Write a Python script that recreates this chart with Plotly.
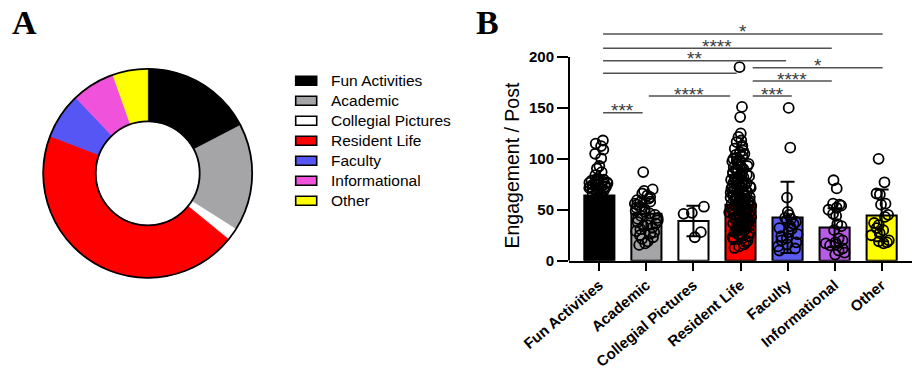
import plotly.graph_objects as go

W, H = 914, 376

# ---------------- data ----------------
categories = ["Fun Activities", "Academic", "Collegial Pictures", "Resident Life",
              "Faculty", "Informational", "Other"]
post_share_pct = [17.4, 16.6, 1.9, 44.9, 7.1, 6.7, 5.4]
pie_colors = ["#000000", "#a5a5a8", "#ffffff", "#ff0000", "#5656f5", "#f052dc", "#ffff00"]
bar_colors = ["#000000", "#a5a5a8", "#ffffff", "#ff0000", "#5b5bef", "#b65ce6", "#ffff00"]

mean_engagement = [64, 46, 39, 55, 42.5, 32.5, 44.5]
sd_engagement = [20, 15, 15, 26, 35, 19, 25.5]

fun_pts = [118, 115, 112.5, 109, 105, 100.5, 93, 90.5, 87, 84, 80.5, 79, 78.5, 77, 76.5,
           75, 74, 73.5, 72, 70.5, 69, 68, 66.5, 65, 63, 61.5, 60, 58.5, 57, 55, 53.5,
           52, 50.5, 48, 47, 45.5, 43, 41, 39.5, 37, 35, 33.5, 31, 29, 27,
           79.5, 77.5, 76, 74.5, 73, 71.5, 70, 68.5, 67, 78, 75.5, 72.5]
academic_pts = [87, 70, 68.5, 66, 64, 62.5, 61, 59.5, 58, 57.5, 56, 55, 53, 52, 50.5, 49,
                48, 46.5, 45, 44, 42, 41, 39.5, 38, 36.5, 35, 34, 32.5, 31, 29, 28, 26.5,
                25, 23, 21.5, 19, 17, 15.5]
collegial_pts = [53, 47, 46, 28, 23]
resident_pts = [190, 151, 141, 125, 121.5, 118, 116.5, 113, 111.5, 110, 108, 106.5, 104,
                102.5, 101, 99, 97.5, 96, 94, 93, 91.5, 90, 88.5, 87, 86, 84.5, 83, 82,
                81, 79.5, 78.5, 77, 76.5, 75, 74, 73, 72.5, 71, 70, 69.5, 68, 67, 66.5,
                65, 64, 63.5, 62, 61, 60.5, 59, 58, 57.5, 56, 55, 54.5, 53, 52, 51.5, 50,
                49, 48.5, 47, 46, 45.5, 44, 43, 42.5, 41, 40, 39.5, 38, 37, 36.5, 35, 34,
                33.5, 32, 31, 30.5, 29, 28, 27, 25.5, 24, 23, 21, 19.5, 18, 16, 14, 12.5,
                62.5, 58.5, 55.5, 51, 47.5, 44.5, 41.5, 38.5, 35.5, 33, 30, 26, 22, 57,
                53.5, 49.5, 45, 42, 39, 36, 79, 84, 92, 98, 71.5, 67.5, 63, 60, 54, 48,
                105, 100, 95, 89, 85.5, 80.5, 76, 73.5, 69, 65.5, 61.5]
faculty_pts = [150, 111, 62, 48, 45, 42, 41, 40, 38, 36, 34, 32, 31, 28, 26, 24, 22, 20,
               18, 16, 14, 12, 10]
informational_pts = [79, 71, 56, 55, 54, 52, 50, 46, 44, 36, 34, 30, 22, 20, 18, 17, 16,
                     15, 12, 10, 8, 6]
other_pts = [100, 77, 66, 65, 56, 55, 45, 43, 37, 35, 32, 30, 27, 25, 20, 19, 18, 17]
points_by_cat = [fun_pts, academic_pts, collegial_pts, resident_pts, faculty_pts,
                 informational_pts, other_pts]

# significance brackets (category units / data units)
bracket_x0 = [0.08, 1.05, 0.08, 0.08, 0.08, 0.08, 3.26, 3.26, 3.26]
bracket_x1 = [0.92, 2.78, 2.92, 3.97, 4.94, 6.02, 4.09, 4.94, 6.02]
bracket_y = [145.3, 161.7, 184.0, 196.4, 208.5, 222.6, 161.7, 176.4, 189.5]
bracket_label = ["***", "****", "", "**", "****", "*", "***", "****", "*"]

y_ticks = [0, 50, 100, 150, 200]

# ---------------- helpers (pixel -> paper) ----------------
def fx(px):
    return px / W

def fy(py):
    return 1 - py / H

SANS = "Liberation Sans, Arial, sans-serif"

fig = go.Figure()

# ---------------- panel A: donut ----------------
cx, cy, r_out, r_in = 147.7, 173.3, 104.5, 52.0
fig.add_trace(go.Pie(
    labels=categories, values=post_share_pct, hole=r_in / r_out,
    sort=False, direction="clockwise", rotation=0,
    marker=dict(colors=pie_colors, line=dict(color=pie_colors, width=0.8)),
    textinfo="none", hoverinfo="label+percent", showlegend=False,
    domain=dict(x=[fx(cx - r_out), fx(cx + r_out)], y=[fy(cy + r_out), fy(cy - r_out)]),
))

shapes = []
for rr in (r_out, r_in):
    shapes.append(dict(type="circle", xref="paper", yref="paper",
                       x0=fx(cx - rr), x1=fx(cx + rr), y0=fy(cy + rr), y1=fy(cy - rr),
                       line=dict(color="black", width=1.8), layer="above"))

annotations = []
# manual legend
for i, (lab, col) in enumerate(zip(categories, pie_colors)):
    yc = 80.7 + 20 * i
    shapes.append(dict(type="rect", xref="paper", yref="paper",
                       x0=fx(295.7), x1=fx(316.7), y0=fy(yc + 4.5), y1=fy(yc - 4.5),
                       fillcolor=col, line=dict(color="black", width=1.6)))
    annotations.append(dict(text=lab, xref="paper", yref="paper", x=fx(329), y=fy(yc),
                            xanchor="left", yanchor="middle", showarrow=False,
                            font=dict(family=SANS, size=15.5, color="black")))

# ---------------- panel B: bars ----------------
fig.add_trace(go.Bar(
    x=categories, y=mean_engagement, width=0.64,
    marker=dict(color=bar_colors, line=dict(color="black", width=2)),
    error_y=dict(type="data", array=sd_engagement, color="black", thickness=2, width=7),
    showlegend=False, xaxis="x", yaxis="y",
))

px_x, px_y = [], []
for cat, pts in zip(categories, points_by_cat):
    px_x += [cat] * len(pts)
    px_y += pts
fig.add_trace(go.Box(
    x=px_x, y=px_y, boxpoints="all", jitter=0.9, pointpos=0, width=0.56,
    fillcolor="rgba(0,0,0,0)", line=dict(width=0, color="rgba(0,0,0,0)"),
    marker=dict(size=10, color="rgba(0,0,0,0)", line=dict(color="black", width=1.8)),
    showlegend=False, xaxis="x", yaxis="y", hoverinfo="y",
))

# y axis line from 0 to 200
shapes.append(dict(type="line", xref="paper", yref="y", x0=fx(569), x1=fx(569),
                   y0=y_ticks[0], y1=y_ticks[-1], line=dict(color="black", width=2)))

# brackets
for x0, x1, yv, lab in zip(bracket_x0, bracket_x1, bracket_y, bracket_label):
    shapes.append(dict(type="line", xref="x", yref="y", x0=x0, x1=x1, y0=yv, y1=yv,
                       line=dict(color="#505050", width=1.5)))
    if lab:
        annotations.append(dict(text=lab, xref="x", yref="y", x=(x0 + x1) / 2, y=yv,
                                xanchor="center", yanchor="middle", yshift=2,
                                showarrow=False,
                                font=dict(family=SANS, size=19, color="#3a3a3a")))

# y-axis title
annotations.append(dict(text="Engagement / Post", xref="paper", yref="paper",
                        x=fx(511.5), y=fy(166), textangle=-90, showarrow=False,
                        xanchor="center", yanchor="middle",
                        font=dict(family=SANS, size=19.5, color="black")))

# panel letters
SERIF = "Liberation Serif, Times New Roman, serif"
annotations.append(dict(text="<b>A</b>", xref="paper", yref="paper", x=fx(10), y=fy(22),
                        xanchor="left", yanchor="middle", showarrow=False,
                        font=dict(family=SERIF, size=34, color="black")))
annotations.append(dict(text="<b>B</b>", xref="paper", yref="paper", x=fx(474), y=fy(22),
                        xanchor="left", yanchor="middle", showarrow=False,
                        font=dict(family=SERIF, size=34, color="black")))

y_bottom_px, y_top_px = 260.7, 18.8
px_per_unit = 1.0185
fig.update_layout(
    width=W, height=H, margin=dict(l=0, r=0, t=0, b=0),
    paper_bgcolor="white", plot_bgcolor="rgba(0,0,0,0)",
    showlegend=False,
    xaxis=dict(domain=[fx(569), fx(912)], range=[-0.645, 6.645], type="category",
               showline=True, linecolor="black", linewidth=2, showgrid=False,
               ticks="outside", ticklen=8, tickwidth=2, tickcolor="black",
               tickangle=-40, automargin=False,
               tickfont=dict(family=SANS, size=15, color="black", weight="bold"),
               anchor="y", fixedrange=True),
    yaxis=dict(domain=[fy(y_bottom_px), fy(y_top_px)],
               range=[0, (y_bottom_px - y_top_px) / px_per_unit],
               tickvals=y_ticks, showline=False, showgrid=False, zeroline=False,
               ticks="outside", ticklen=11, tickwidth=2, tickcolor="black",
               automargin=False, anchor="x",
               tickfont=dict(family=SANS, size=15, color="black", weight="bold")),
    shapes=shapes, annotations=annotations,
)

fig.write_html(
    "out.html",
    config={"displayModeBar": False},
    post_script="document.body.style.margin='0';document.body.style.padding='0';"
                "document.body.style.overflow='hidden';",
)
